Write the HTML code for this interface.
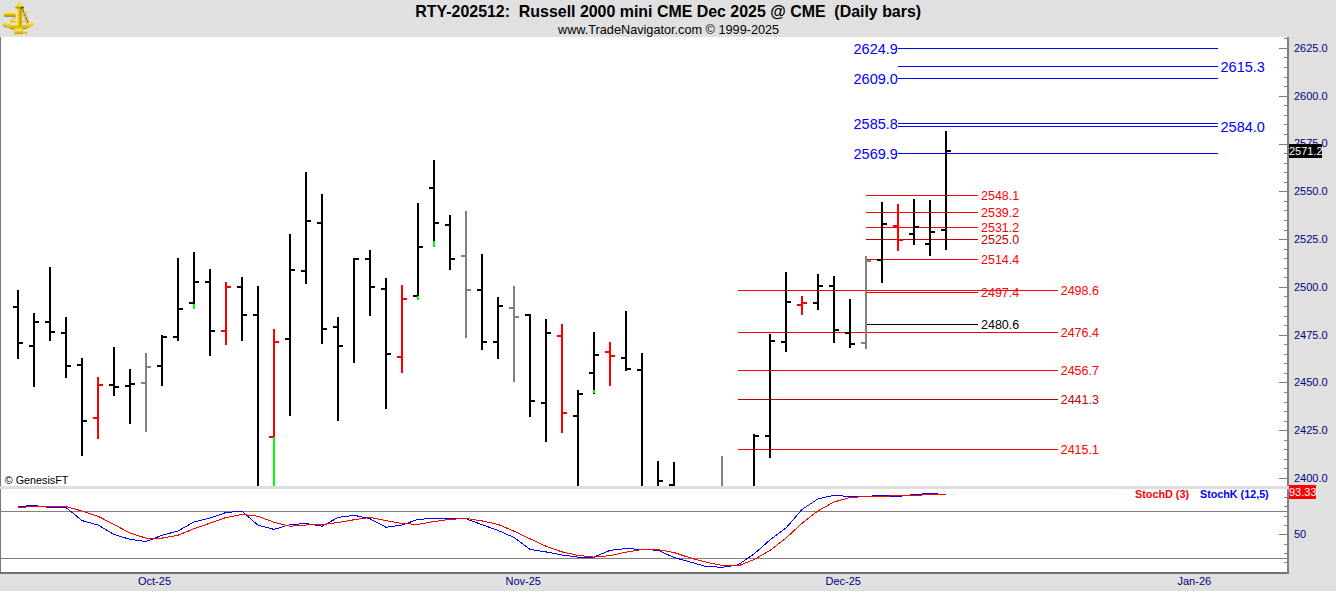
<!DOCTYPE html>
<html><head><meta charset="utf-8"><title>RTY chart</title>
<style>
html,body{margin:0;padding:0;}
body{width:1336px;height:591px;position:relative;overflow:hidden;background:#e0e0e0;font-family:"Liberation Sans",sans-serif;}
.t{position:absolute;white-space:nowrap;line-height:1;}
</style></head><body>
<svg width="1336" height="591" viewBox="0 0 1336 591" style="position:absolute;left:0;top:0" shape-rendering="crispEdges">
<rect x="0" y="0" width="1336" height="591" fill="#e0e0e0"/>
<rect x="0" y="37" width="1289" height="449" fill="#ffffff"/>
<rect x="0" y="489" width="1289" height="83" fill="#ffffff"/>
<rect x="0" y="37" width="1" height="537" fill="#787878"/>
<rect x="0" y="572" width="1289" height="2" fill="#707070"/>
<rect x="1287" y="37" width="2" height="537" fill="#808080"/>
<rect x="0" y="486" width="1290" height="3" fill="#dedede"/>
<rect x="1" y="511" width="1286" height="1" fill="#808080"/>
<rect x="1" y="558" width="1286" height="1" fill="#808080"/>
<rect x="1284" y="38" width="3" height="1" fill="#808080"/>
<rect x="1279" y="48" width="8" height="1" fill="#808080"/>
<rect x="1284" y="57" width="3" height="1" fill="#808080"/>
<rect x="1284" y="67" width="3" height="1" fill="#808080"/>
<rect x="1284" y="77" width="3" height="1" fill="#808080"/>
<rect x="1284" y="86" width="3" height="1" fill="#808080"/>
<rect x="1279" y="96" width="8" height="1" fill="#808080"/>
<rect x="1284" y="105" width="3" height="1" fill="#808080"/>
<rect x="1284" y="115" width="3" height="1" fill="#808080"/>
<rect x="1284" y="124" width="3" height="1" fill="#808080"/>
<rect x="1284" y="134" width="3" height="1" fill="#808080"/>
<rect x="1279" y="144" width="8" height="1" fill="#808080"/>
<rect x="1284" y="153" width="3" height="1" fill="#808080"/>
<rect x="1284" y="163" width="3" height="1" fill="#808080"/>
<rect x="1284" y="172" width="3" height="1" fill="#808080"/>
<rect x="1284" y="182" width="3" height="1" fill="#808080"/>
<rect x="1279" y="191" width="8" height="1" fill="#808080"/>
<rect x="1284" y="201" width="3" height="1" fill="#808080"/>
<rect x="1284" y="210" width="3" height="1" fill="#808080"/>
<rect x="1284" y="220" width="3" height="1" fill="#808080"/>
<rect x="1284" y="230" width="3" height="1" fill="#808080"/>
<rect x="1279" y="239" width="8" height="1" fill="#808080"/>
<rect x="1284" y="249" width="3" height="1" fill="#808080"/>
<rect x="1284" y="258" width="3" height="1" fill="#808080"/>
<rect x="1284" y="268" width="3" height="1" fill="#808080"/>
<rect x="1284" y="277" width="3" height="1" fill="#808080"/>
<rect x="1279" y="287" width="8" height="1" fill="#808080"/>
<rect x="1284" y="296" width="3" height="1" fill="#808080"/>
<rect x="1284" y="306" width="3" height="1" fill="#808080"/>
<rect x="1284" y="316" width="3" height="1" fill="#808080"/>
<rect x="1284" y="325" width="3" height="1" fill="#808080"/>
<rect x="1279" y="335" width="8" height="1" fill="#808080"/>
<rect x="1284" y="344" width="3" height="1" fill="#808080"/>
<rect x="1284" y="354" width="3" height="1" fill="#808080"/>
<rect x="1284" y="363" width="3" height="1" fill="#808080"/>
<rect x="1284" y="373" width="3" height="1" fill="#808080"/>
<rect x="1279" y="382" width="8" height="1" fill="#808080"/>
<rect x="1284" y="392" width="3" height="1" fill="#808080"/>
<rect x="1284" y="402" width="3" height="1" fill="#808080"/>
<rect x="1284" y="411" width="3" height="1" fill="#808080"/>
<rect x="1284" y="421" width="3" height="1" fill="#808080"/>
<rect x="1279" y="430" width="8" height="1" fill="#808080"/>
<rect x="1284" y="440" width="3" height="1" fill="#808080"/>
<rect x="1284" y="449" width="3" height="1" fill="#808080"/>
<rect x="1284" y="459" width="3" height="1" fill="#808080"/>
<rect x="1284" y="468" width="3" height="1" fill="#808080"/>
<rect x="1279" y="478" width="8" height="1" fill="#808080"/>
<rect x="1284" y="497" width="3" height="1" fill="#808080"/>
<rect x="1284" y="506" width="3" height="1" fill="#808080"/>
<rect x="1284" y="516" width="3" height="1" fill="#808080"/>
<rect x="1284" y="525" width="3" height="1" fill="#808080"/>
<rect x="1284" y="544" width="3" height="1" fill="#808080"/>
<rect x="1284" y="553" width="3" height="1" fill="#808080"/>
<rect x="1284" y="562" width="3" height="1" fill="#808080"/>
<rect x="1279" y="534" width="8" height="1" fill="#808080"/>
<rect x="898" y="48" width="320" height="1" fill="#0000ff"/>
<rect x="898" y="66" width="320" height="1" fill="#0000ff"/>
<rect x="898" y="78" width="320" height="1" fill="#0000ff"/>
<rect x="898" y="123" width="320" height="1" fill="#0000ff"/>
<rect x="898" y="126" width="320" height="1" fill="#0000ff"/>
<rect x="898" y="153" width="320" height="1" fill="#0000ff"/>
<rect x="866" y="195" width="112" height="1" fill="#ff0000"/>
<rect x="866" y="212" width="112" height="1" fill="#ff0000"/>
<rect x="866" y="227" width="112" height="1" fill="#ff0000"/>
<rect x="866" y="239" width="112" height="1" fill="#c00000"/>
<rect x="866" y="259" width="112" height="1" fill="#ff0000"/>
<rect x="738" y="290" width="320" height="1" fill="#ff0000"/>
<rect x="738" y="332" width="320" height="1" fill="#ff0000"/>
<rect x="738" y="370" width="320" height="1" fill="#ff0000"/>
<rect x="738" y="399" width="320" height="1" fill="#c00000"/>
<rect x="738" y="449" width="320" height="1" fill="#ff0000"/>
<rect x="866" y="292" width="112" height="1" fill="#ff0000"/>
<rect x="866" y="324" width="112" height="1" fill="#000000"/>
<rect x="17" y="290" width="2" height="69" fill="#000000"/>
<rect x="13" y="306" width="4" height="2" fill="#000000"/>
<rect x="19" y="342" width="4" height="2" fill="#000000"/>
<rect x="33" y="313" width="2" height="74" fill="#000000"/>
<rect x="29" y="345" width="4" height="2" fill="#000000"/>
<rect x="35" y="321" width="4" height="2" fill="#000000"/>
<rect x="49" y="267" width="2" height="74" fill="#000000"/>
<rect x="45" y="321" width="4" height="2" fill="#000000"/>
<rect x="51" y="331" width="4" height="2" fill="#000000"/>
<rect x="65" y="317" width="2" height="61" fill="#000000"/>
<rect x="61" y="332" width="4" height="2" fill="#000000"/>
<rect x="67" y="365" width="4" height="2" fill="#000000"/>
<rect x="81" y="358" width="2" height="98" fill="#000000"/>
<rect x="77" y="364" width="4" height="2" fill="#000000"/>
<rect x="83" y="420" width="4" height="2" fill="#000000"/>
<rect x="97" y="377" width="2" height="62" fill="#ff0000"/>
<rect x="93" y="417" width="4" height="2" fill="#ff0000"/>
<rect x="99" y="384" width="4" height="2" fill="#ff0000"/>
<rect x="113" y="347" width="2" height="49" fill="#000000"/>
<rect x="109" y="384" width="4" height="2" fill="#000000"/>
<rect x="115" y="386" width="4" height="2" fill="#000000"/>
<rect x="129" y="369" width="2" height="55" fill="#000000"/>
<rect x="125" y="385" width="4" height="2" fill="#000000"/>
<rect x="131" y="383" width="4" height="2" fill="#000000"/>
<rect x="145" y="353" width="2" height="79" fill="#808080"/>
<rect x="141" y="382" width="4" height="2" fill="#808080"/>
<rect x="147" y="366" width="4" height="2" fill="#808080"/>
<rect x="161" y="335" width="2" height="51" fill="#000000"/>
<rect x="157" y="365" width="4" height="2" fill="#000000"/>
<rect x="163" y="336" width="4" height="2" fill="#000000"/>
<rect x="177" y="258" width="2" height="83" fill="#000000"/>
<rect x="173" y="336" width="4" height="2" fill="#000000"/>
<rect x="179" y="308" width="4" height="2" fill="#000000"/>
<rect x="193" y="252" width="2" height="57" fill="#000000"/>
<rect x="193" y="304" width="2" height="5" fill="#00ff00"/>
<rect x="189" y="302" width="4" height="2" fill="#000000"/>
<rect x="195" y="281" width="4" height="2" fill="#000000"/>
<rect x="209" y="269" width="2" height="87" fill="#000000"/>
<rect x="205" y="281" width="4" height="2" fill="#000000"/>
<rect x="211" y="330" width="4" height="2" fill="#000000"/>
<rect x="225" y="282" width="2" height="63" fill="#ff0000"/>
<rect x="221" y="330" width="4" height="2" fill="#ff0000"/>
<rect x="227" y="286" width="4" height="2" fill="#ff0000"/>
<rect x="241" y="277" width="2" height="64" fill="#000000"/>
<rect x="237" y="286" width="4" height="2" fill="#000000"/>
<rect x="243" y="314" width="4" height="2" fill="#000000"/>
<rect x="257" y="286" width="2" height="200" fill="#000000"/>
<rect x="253" y="314" width="4" height="2" fill="#000000"/>
<rect x="273" y="329" width="2" height="157" fill="#ff0000"/>
<rect x="273" y="437" width="2" height="49" fill="#00ff00"/>
<rect x="269" y="436" width="4" height="2" fill="#ff0000"/>
<rect x="275" y="341" width="4" height="2" fill="#ff0000"/>
<rect x="289" y="234" width="2" height="182" fill="#000000"/>
<rect x="285" y="338" width="4" height="2" fill="#000000"/>
<rect x="291" y="269" width="4" height="2" fill="#000000"/>
<rect x="305" y="172" width="2" height="112" fill="#000000"/>
<rect x="301" y="270" width="4" height="2" fill="#000000"/>
<rect x="307" y="220" width="4" height="2" fill="#000000"/>
<rect x="321" y="194" width="2" height="150" fill="#000000"/>
<rect x="317" y="222" width="4" height="2" fill="#000000"/>
<rect x="323" y="328" width="4" height="2" fill="#000000"/>
<rect x="337" y="317" width="2" height="104" fill="#000000"/>
<rect x="333" y="326" width="4" height="2" fill="#000000"/>
<rect x="339" y="345" width="4" height="2" fill="#000000"/>
<rect x="353" y="258" width="2" height="105" fill="#000000"/>
<rect x="355" y="258" width="4" height="2" fill="#000000"/>
<rect x="369" y="250" width="2" height="66" fill="#000000"/>
<rect x="365" y="258" width="4" height="2" fill="#000000"/>
<rect x="371" y="286" width="4" height="2" fill="#000000"/>
<rect x="385" y="278" width="2" height="131" fill="#000000"/>
<rect x="381" y="288" width="4" height="2" fill="#000000"/>
<rect x="387" y="353" width="4" height="2" fill="#000000"/>
<rect x="401" y="285" width="2" height="88" fill="#ff0000"/>
<rect x="397" y="356" width="4" height="2" fill="#ff0000"/>
<rect x="403" y="298" width="4" height="2" fill="#ff0000"/>
<rect x="417" y="203" width="2" height="97" fill="#000000"/>
<rect x="417" y="296" width="2" height="4" fill="#00ff00"/>
<rect x="413" y="295" width="4" height="2" fill="#000000"/>
<rect x="419" y="246" width="4" height="2" fill="#000000"/>
<rect x="433" y="160" width="2" height="87" fill="#000000"/>
<rect x="433" y="241" width="2" height="6" fill="#00ff00"/>
<rect x="429" y="187" width="4" height="2" fill="#000000"/>
<rect x="435" y="222" width="4" height="2" fill="#000000"/>
<rect x="449" y="215" width="2" height="55" fill="#000000"/>
<rect x="445" y="224" width="4" height="2" fill="#000000"/>
<rect x="451" y="258" width="4" height="2" fill="#000000"/>
<rect x="465" y="211" width="2" height="127" fill="#808080"/>
<rect x="461" y="255" width="4" height="2" fill="#808080"/>
<rect x="467" y="289" width="4" height="2" fill="#808080"/>
<rect x="481" y="254" width="2" height="96" fill="#000000"/>
<rect x="477" y="289" width="4" height="2" fill="#000000"/>
<rect x="483" y="341" width="4" height="2" fill="#000000"/>
<rect x="497" y="297" width="2" height="62" fill="#000000"/>
<rect x="493" y="341" width="4" height="2" fill="#000000"/>
<rect x="499" y="305" width="4" height="2" fill="#000000"/>
<rect x="513" y="286" width="2" height="96" fill="#808080"/>
<rect x="509" y="307" width="4" height="2" fill="#808080"/>
<rect x="515" y="316" width="4" height="2" fill="#808080"/>
<rect x="529" y="314" width="2" height="103" fill="#000000"/>
<rect x="525" y="314" width="4" height="2" fill="#000000"/>
<rect x="531" y="400" width="4" height="2" fill="#000000"/>
<rect x="545" y="319" width="2" height="123" fill="#000000"/>
<rect x="541" y="402" width="4" height="2" fill="#000000"/>
<rect x="547" y="332" width="4" height="2" fill="#000000"/>
<rect x="561" y="324" width="2" height="109" fill="#ff0000"/>
<rect x="557" y="335" width="4" height="2" fill="#ff0000"/>
<rect x="563" y="412" width="4" height="2" fill="#ff0000"/>
<rect x="577" y="390" width="2" height="96" fill="#000000"/>
<rect x="573" y="415" width="4" height="2" fill="#000000"/>
<rect x="579" y="393" width="4" height="2" fill="#000000"/>
<rect x="593" y="332" width="2" height="62" fill="#000000"/>
<rect x="593" y="390" width="2" height="3" fill="#00ff00"/>
<rect x="589" y="372" width="4" height="2" fill="#000000"/>
<rect x="595" y="354" width="4" height="2" fill="#000000"/>
<rect x="609" y="342" width="2" height="44" fill="#ff0000"/>
<rect x="605" y="351" width="4" height="2" fill="#ff0000"/>
<rect x="611" y="355" width="4" height="2" fill="#ff0000"/>
<rect x="625" y="311" width="2" height="60" fill="#000000"/>
<rect x="621" y="357" width="4" height="2" fill="#000000"/>
<rect x="627" y="368" width="4" height="2" fill="#000000"/>
<rect x="641" y="353" width="2" height="133" fill="#000000"/>
<rect x="637" y="369" width="4" height="2" fill="#000000"/>
<rect x="657" y="461" width="2" height="25" fill="#000000"/>
<rect x="659" y="480" width="4" height="2" fill="#000000"/>
<rect x="673" y="462" width="2" height="24" fill="#000000"/>
<rect x="669" y="484" width="4" height="2" fill="#000000"/>
<rect x="721" y="456" width="2" height="30" fill="#808080"/>
<rect x="753" y="434" width="2" height="52" fill="#000000"/>
<rect x="755" y="435" width="4" height="2" fill="#000000"/>
<rect x="769" y="334" width="2" height="124" fill="#000000"/>
<rect x="765" y="435" width="4" height="2" fill="#000000"/>
<rect x="771" y="340" width="4" height="2" fill="#000000"/>
<rect x="785" y="272" width="2" height="80" fill="#000000"/>
<rect x="781" y="341" width="4" height="2" fill="#000000"/>
<rect x="787" y="301" width="4" height="2" fill="#000000"/>
<rect x="801" y="296" width="2" height="19" fill="#ff0000"/>
<rect x="797" y="304" width="4" height="2" fill="#ff0000"/>
<rect x="803" y="302" width="4" height="2" fill="#ff0000"/>
<rect x="817" y="274" width="2" height="36" fill="#000000"/>
<rect x="813" y="302" width="4" height="2" fill="#000000"/>
<rect x="819" y="285" width="4" height="2" fill="#000000"/>
<rect x="833" y="276" width="2" height="67" fill="#000000"/>
<rect x="829" y="285" width="4" height="2" fill="#000000"/>
<rect x="835" y="329" width="4" height="2" fill="#000000"/>
<rect x="849" y="299" width="2" height="49" fill="#000000"/>
<rect x="845" y="332" width="4" height="2" fill="#000000"/>
<rect x="851" y="343" width="4" height="2" fill="#000000"/>
<rect x="865" y="256" width="2" height="93" fill="#808080"/>
<rect x="861" y="342" width="4" height="2" fill="#808080"/>
<rect x="867" y="260" width="4" height="2" fill="#808080"/>
<rect x="881" y="202" width="2" height="81" fill="#000000"/>
<rect x="877" y="259" width="4" height="2" fill="#000000"/>
<rect x="883" y="223" width="4" height="2" fill="#000000"/>
<rect x="897" y="204" width="2" height="47" fill="#ff0000"/>
<rect x="893" y="225" width="4" height="2" fill="#ff0000"/>
<rect x="899" y="239" width="4" height="2" fill="#ff0000"/>
<rect x="913" y="199" width="2" height="46" fill="#000000"/>
<rect x="909" y="233" width="4" height="2" fill="#000000"/>
<rect x="915" y="226" width="4" height="2" fill="#000000"/>
<rect x="929" y="200" width="2" height="56" fill="#000000"/>
<rect x="925" y="243" width="4" height="2" fill="#000000"/>
<rect x="931" y="231" width="4" height="2" fill="#000000"/>
<rect x="945" y="131" width="2" height="119" fill="#000000"/>
<rect x="941" y="229" width="4" height="2" fill="#000000"/>
<rect x="947" y="150" width="4" height="2" fill="#000000"/>
<g shape-rendering="crispEdges">
<polyline points="18,506.50 34,505.50 50,507.50 66,507.50 82,520.60 98,525.00 114,534.40 130,539.40 146,541.50 162,535.30 178,531.00 194,521.90 210,518.10 226,512.50 242,511.25 258,525.25 274,529.40 290,524.60 306,523.50 322,526.25 338,517.50 354,515.25 370,518.75 386,527.25 402,525.00 418,519.40 434,518.40 450,518.40 466,518.75 482,524.70 498,530.40 514,537.50 530,549.40 546,551.90 562,555.00 578,557.10 594,557.10 610,550.40 626,548.50 642,549.50 658,550.25 674,557.50 690,561.90 706,566.50 722,567.25 738,564.90 754,554.00 770,540.00 786,528.00 802,509.50 818,498.80 834,495.30 850,496.50 866,496.30 882,495.50 898,496.50 914,494.50 930,493.50 946,494.50" fill="none" stroke="#0000ff" stroke-width="1"/>
<polyline points="18,507.50 34,506.50 50,506.50 66,506.50 82,511.00 98,516.25 114,524.40 130,533.10 146,538.10 162,538.10 178,535.25 194,528.75 210,523.10 226,517.50 242,514.40 258,516.25 274,522.25 290,526.25 306,525.00 322,524.60 338,522.50 354,519.75 370,517.50 386,520.60 402,523.50 418,524.40 434,521.50 450,519.40 466,518.40 482,520.90 498,524.40 514,531.25 530,538.75 546,546.25 562,551.90 578,555.40 594,557.10 610,555.60 626,552.25 642,549.40 658,549.60 674,552.50 690,557.80 706,562.10 722,565.40 738,566.00 754,559.50 770,550.50 786,538.00 802,523.30 818,510.80 834,502.00 850,497.50 866,496.50 882,496.50 898,495.50 914,495.50 930,494.50 946,494.50" fill="none" stroke="#ff0000" stroke-width="1"/>
</g>
</svg>
<svg width="40" height="37" viewBox="0 0 40 37" style="position:absolute;left:0;top:0">
<defs>
<linearGradient id="gv" x1="0" y1="0" x2="0" y2="1"><stop offset="0" stop-color="#fff7a8"/><stop offset="0.35" stop-color="#f4d820"/><stop offset="0.75" stop-color="#d0a800"/><stop offset="1" stop-color="#3e3200"/></linearGradient>
<linearGradient id="gh" x1="0" y1="0" x2="1" y2="0"><stop offset="0" stop-color="#fff080"/><stop offset="0.45" stop-color="#ecc800"/><stop offset="1" stop-color="#a88a00"/></linearGradient>
<linearGradient id="ga" x1="0" y1="0" x2="0" y2="1"><stop offset="0" stop-color="#fff27a"/><stop offset="0.55" stop-color="#eac600"/><stop offset="1" stop-color="#a08000"/></linearGradient>
<linearGradient id="gb" x1="0" y1="0" x2="0" y2="1"><stop offset="0" stop-color="#d8b000"/><stop offset="0.5" stop-color="#f6dc30"/><stop offset="1" stop-color="#c8a000"/></linearGradient>
</defs>
<path d="M2.8 24.4 Q19 36.5 34.8 24 L33.4 21 Q19 31 4.6 21.6 Z" fill="url(#ga)"/>
<path d="M3.2 25 Q5 27 6.8 27.8" stroke="#5a4800" stroke-width="0.9" fill="none" opacity="0.8"/>
<path d="M10 22.5 L16 16.5" stroke="#e8c80a" stroke-width="1.5"/>
<path d="M21.8 8.8 L27.8 23" stroke="#4a3a00" stroke-width="2"/>
<path d="M21.4 8.8 L27.2 23" stroke="#f2d424" stroke-width="1.3"/>
<path d="M24.2 13.2 L26.8 11.6 M25.2 17.4 L27.6 16.2" stroke="#eccc10" stroke-width="1.6"/>
<path d="M10.3 20.8 Q19 24 27.5 20.3" stroke="#e8c400" stroke-width="1.4" fill="none"/>
<rect x="16.6" y="7" width="5" height="20" fill="url(#gh)"/>
<path d="M15.2 8.3 L15.8 5.6 Q19 3.8 23 5.4 L23.8 8.3 Z" fill="url(#gv)"/>
<ellipse cx="19.2" cy="3.9" rx="2.2" ry="1.6" fill="#f4d828"/>
<rect x="21" y="6.8" width="2.6" height="1.5" fill="#3a2e00" opacity="0.85"/>
<rect x="4" y="11.9" width="11.6" height="4.7" rx="1" fill="url(#gv)"/>
<path d="M14.4 25.6 L23.2 25.6 L23.2 34.2 L14.4 34.2 Z" fill="url(#gb)"/>
<rect x="15.6" y="29.6" width="6.4" height="1" fill="#fff39a"/>
<rect x="23.2" y="32.3" width="3.2" height="1.5" fill="#e0bb10"/>
<rect x="26" y="31.6" width="1.1" height="3" fill="#e0bb10"/>
</svg>
<div class="t" style="left:415.3px;top:4px;font-size:15.93px;color:#000;font-weight:bold">RTY-202512:&nbsp; Russell 2000 mini CME Dec 2025 @ CME&nbsp; (Daily bars)</div><div class="t" style="left:558px;top:23.5px;font-size:12.7px;color:#000;">www.TradeNavigator.com © 1999-2025</div><div class="t" style="left:853.5px;top:41.5px;font-size:14.5px;color:#0000ff;">2624.9</div><div class="t" style="left:853.5px;top:71.5px;font-size:14.5px;color:#0000ff;">2609.0</div><div class="t" style="left:853.5px;top:116.5px;font-size:14.5px;color:#0000ff;">2585.8</div><div class="t" style="left:853.5px;top:146.5px;font-size:14.5px;color:#0000ff;">2569.9</div><div class="t" style="left:1220.5px;top:59.5px;font-size:14.5px;color:#0000ff;">2615.3</div><div class="t" style="left:1220.5px;top:119.5px;font-size:14.5px;color:#0000ff;">2584.0</div><div class="t" style="left:981px;top:190px;font-size:12.5px;color:#ff0000;">2548.1</div><div class="t" style="left:981px;top:207px;font-size:12.5px;color:#ff0000;">2539.2</div><div class="t" style="left:981px;top:222px;font-size:12.5px;color:#ff0000;">2531.2</div><div class="t" style="left:981px;top:234px;font-size:12.5px;color:#c00000;">2525.0</div><div class="t" style="left:981px;top:254px;font-size:12.5px;color:#ff0000;">2514.4</div><div class="t" style="left:1060.7px;top:285px;font-size:12.5px;color:#ff0000;">2498.6</div><div class="t" style="left:1060.7px;top:327px;font-size:12.5px;color:#ff0000;">2476.4</div><div class="t" style="left:1060.7px;top:365px;font-size:12.5px;color:#ff0000;">2456.7</div><div class="t" style="left:1060.7px;top:394px;font-size:12.5px;color:#c00000;">2441.3</div><div class="t" style="left:1060.7px;top:444px;font-size:12.5px;color:#ff0000;">2415.1</div><div class="t" style="left:981px;top:287px;font-size:12.5px;color:#ff0000;">2497.4</div><div class="t" style="left:981px;top:319px;font-size:12.5px;color:#000;">2480.6</div><div class="t" style="left:1294px;top:42.8px;font-size:11px;color:#000080;">2625.0</div><div class="t" style="left:1294px;top:90.6px;font-size:11px;color:#000080;">2600.0</div><div class="t" style="left:1294px;top:138.4px;font-size:11px;color:#000080;">2575.0</div><div class="t" style="left:1294px;top:186.1px;font-size:11px;color:#000080;">2550.0</div><div class="t" style="left:1294px;top:233.9px;font-size:11px;color:#000080;">2525.0</div><div class="t" style="left:1294px;top:281.7px;font-size:11px;color:#000080;">2500.0</div><div class="t" style="left:1294px;top:329.5px;font-size:11px;color:#000080;">2475.0</div><div class="t" style="left:1294px;top:377.3px;font-size:11px;color:#000080;">2450.0</div><div class="t" style="left:1294px;top:425.0px;font-size:11px;color:#000080;">2425.0</div><div class="t" style="left:1294px;top:472.8px;font-size:11px;color:#000080;">2400.0</div><div class="t" style="left:1294px;top:529px;font-size:11px;color:#000080;">50</div><div style="position:absolute;left:1289px;top:144px;width:33px;height:14px;background:#000"></div><div class="t" style="left:1289px;top:145.8px;font-size:11px;color:#ffffff;">2571.2</div><div style="position:absolute;left:1289px;top:485px;width:27px;height:14px;background:#f00"></div><div class="t" style="left:1289px;top:486.5px;font-size:11px;color:#ffffff;">93.33</div><div class="t" style="left:138px;top:575.5px;font-size:11px;color:#000080;">Oct-25</div><div class="t" style="left:505.5px;top:575.5px;font-size:11px;color:#000080;">Nov-25</div><div class="t" style="left:825.5px;top:575.5px;font-size:11px;color:#000080;">Dec-25</div><div class="t" style="left:1177.5px;top:575.5px;font-size:11px;color:#000080;">Jan-26</div><div class="t" style="left:4.7px;top:475.2px;font-size:10.8px;color:#000;">© GenesisFT</div><div class="t" style="left:1135px;top:489px;font-size:10.8px;color:#ff0000;font-weight:bold">StochD (3)</div><div class="t" style="left:1200px;top:489px;font-size:10.75px;color:#0000ff;font-weight:bold">StochK (12,5)</div>
</body></html>
